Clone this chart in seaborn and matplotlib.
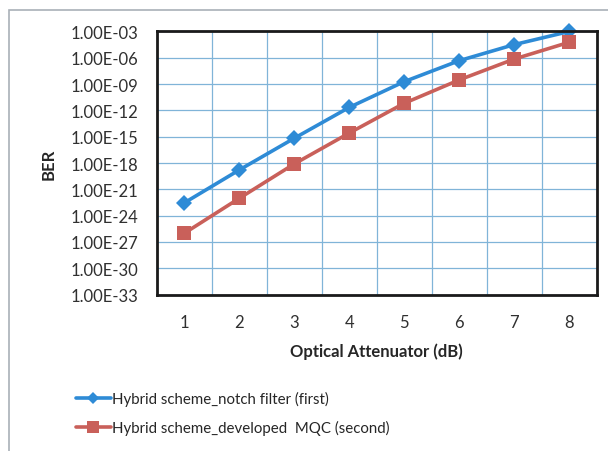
import numpy as np
import pandas as pd
import matplotlib
matplotlib.use("Agg")
import matplotlib.pyplot as plt
from matplotlib.patches import Rectangle
from matplotlib.ticker import FixedLocator, FuncFormatter, NullLocator
import seaborn as sns

attenuation = [1, 2, 3, 4, 5, 6, 7, 8]
ber_first = [2.8e-23, 1.6e-19, 6.6e-16, 2.2e-12, 1.9e-9, 4.7e-7, 3.2e-5, 1.0e-3]
ber_second = [9.5e-27, 9.3e-23, 7.8e-19, 2.6e-15, 6.5e-12, 3.0e-9, 7.2e-7, 5.9e-5]
series_names = ["Hybrid scheme_notch filter (first)",
                "Hybrid scheme_developed  MQC (second)"]
y_ticks = [10.0 ** -e for e in range(3, 34, 3)]

df = pd.DataFrame({
    "Optical Attenuator (dB)": attenuation * 2,
    "BER": ber_first + ber_second,
    "scheme": [series_names[0]] * 8 + [series_names[1]] * 8,
})

sns.set_style("white")
plt.rcParams["font.family"] = ["Lato", "DejaVu Sans"]

fig = plt.figure(figsize=(6.08, 4.52), dpi=100)
fig.patches.append(Rectangle((9 / 608, -0.1), 1.2, (452 - 11) / 452 + 0.1,
                             transform=fig.transFigure, fill=False,
                             edgecolor="#a9b0b8", linewidth=1.2))
ax = fig.add_axes([0.2577, 0.3462, 0.7237, 0.5819])

palette = {series_names[0]: "#2e8bd6", series_names[1]: "#c9605a"}
sns.lineplot(data=df, x="Optical Attenuator (dB)", y="BER", hue="scheme",
             style="scheme", markers={series_names[0]: "D", series_names[1]: "s"},
             dashes=False, palette=palette, linewidth=2.6, ax=ax,
             markeredgewidth=0, clip_on=False)
for line in ax.lines:
    if line.get_marker() == "D":
        line.set_markersize(8)
    else:
        line.set_markersize(10)

ax.set_yscale("log")
ax.set_ylim(1e-33, 1e-3)
ax.set_xlim(0.5, 8.5)
ax.yaxis.set_major_locator(FixedLocator(y_ticks))
ax.yaxis.set_minor_locator(NullLocator())
ax.yaxis.set_major_formatter(FuncFormatter(lambda v, p: "1.00E-%02d" % round(-np.log10(v))))
ax.xaxis.set_major_locator(FixedLocator(attenuation))
ax.xaxis.set_minor_locator(FixedLocator([a + 0.5 for a in attenuation[:-1]]))

ax.grid(False)
ax.grid(True, which="major", axis="y", color="#80b4d8", linewidth=0.9)
ax.grid(True, which="minor", axis="x", color="#80b4d8", linewidth=0.9)
ax.set_axisbelow(True)
for s in ax.spines.values():
    s.set_color("#1a1a1a")
    s.set_linewidth(2)

ax.tick_params(axis="both", which="both", length=0, labelsize=12, colors="#303030")
ax.tick_params(axis="y", pad=13)
ax.tick_params(axis="x", pad=14)
ax.set_ylabel("BER", fontsize=12, fontweight="bold", color="#262626", labelpad=10)
ax.set_xlabel("Optical Attenuator (dB)", fontsize=12, fontweight="bold",
              color="#262626", labelpad=9)

handles, labels = ax.get_legend_handles_labels()
for h in handles:
    h.set_markersize(6 if h.get_marker() == "D" else 8)
ax.legend(handles, labels, loc="upper left", bbox_to_anchor=(70 / 608, 1 - 386 / 452),
          bbox_transform=fig.transFigure, frameon=False, fontsize=10.8,
          handlelength=2.3, handletextpad=0.1, labelspacing=0.95, borderaxespad=0)

fig.savefig("out.png", dpi=100)
